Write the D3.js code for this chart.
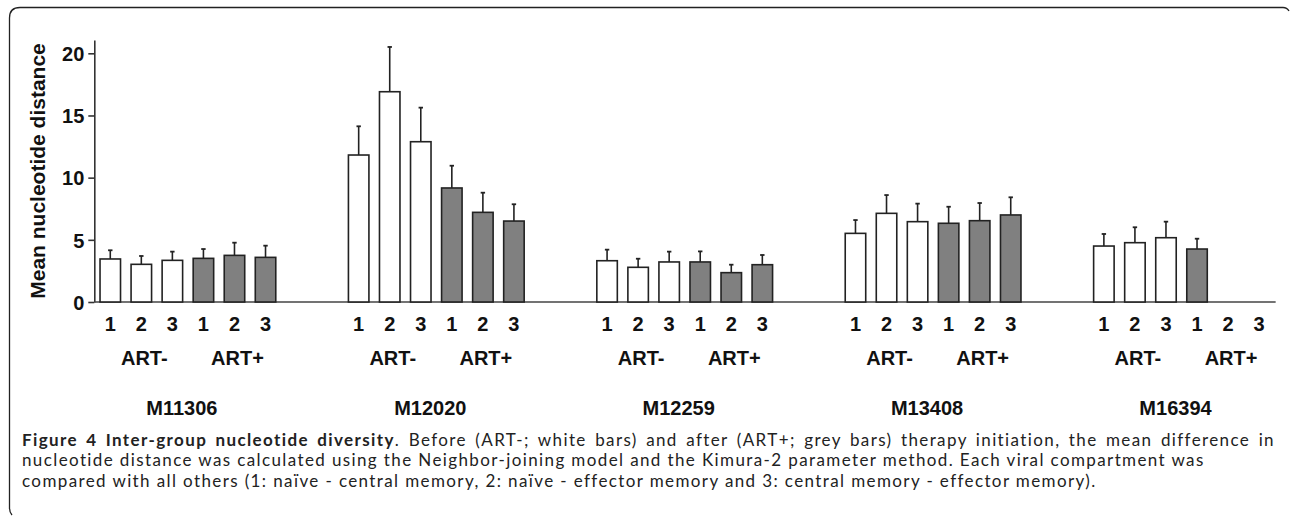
<!DOCTYPE html>
<html>
<head>
<meta charset="utf-8">
<script src="https://cdn.jsdelivr.net/npm/d3@7"></script>
<style>
  body { margin: 0; background: #fff; }
  svg { display: block; }
  .axis path, .axis line { stroke: #333; stroke-width: 1.6; }
  .axis text { font-family: 'Liberation Sans', Arial, sans-serif; font-weight: bold; font-size: 20px; fill: #111; }
</style>
</head>
<body>
<svg id="chart" width="1290" height="518"></svg>
<script>
const patients = ['M11306', 'M12020', 'M12259', 'M13408', 'M16394'];
const phases = ['ART-', 'ART+'];
const comparisons = ['1', '2', '3'];
const yTicks = [0, 5, 10, 15, 20];

// mean nucleotide distance, one row per patient, comparisons 1..3
const meanArtMinus = [
  [3.46, 3.03, 3.35],
  [11.82, 16.91, 12.89],
  [3.32, 2.79, 3.22],
  [5.52, 7.13, 6.46],
  [4.50, 4.77, 5.17]
];
const meanArtPlus = [
  [3.51, 3.75, 3.59],
  [9.17, 7.21, 6.51],
  [3.22, 2.36, 3.00],
  [6.33, 6.54, 7.00],
  [4.26, null, null]
];
// upper error (SEM)
const errArtMinus = [
  [0.70, 0.67, 0.70],
  [2.31, 3.60, 2.74],
  [0.89, 0.69, 0.83],
  [1.07, 1.47, 1.45],
  [0.97, 1.24, 1.29]
];
const errArtPlus = [
  [0.75, 1.02, 0.94],
  [1.79, 1.58, 1.35],
  [0.85, 0.64, 0.78],
  [1.33, 1.42, 1.42],
  [0.83, null, null]
];

const captionBold = 'Figure 4 Inter-group nucleotide diversity';
const captionLines = [
  '. Before (ART-; white bars) and after (ART+; grey bars) therapy initiation, the mean difference in',
  'nucleotide distance was calculated using the Neighbor-joining model and the Kimura-2 parameter method. Each viral compartment was',
  'compared with all others (1: naïve - central memory, 2: naïve - effector memory and 3: central memory - effector memory).'
];

const slots = [];
phases.forEach(p => comparisons.forEach(c => slots.push(p + '|' + c)));

const data = [];
patients.forEach((pt, i) => {
  comparisons.forEach((c, j) => {
    data.push({ patient: pt, phase: 'ART-', comp: c, mean: meanArtMinus[i][j], err: errArtMinus[i][j] });
  });
  comparisons.forEach((c, j) => {
    data.push({ patient: pt, phase: 'ART+', comp: c, mean: meanArtPlus[i][j], err: errArtPlus[i][j] });
  });
});

const svg = d3.select('#chart');
const groupStep = 248.4;
const left = 94.75;

const x0 = d3.scaleBand().domain(patients).range([left, left + groupStep * patients.length]);
const x1 = d3.scaleBand().domain(slots).range([0, 6 * 31.05]).paddingInner(0.34).paddingOuter(0.17);
const y = d3.scaleLinear().domain([0, 21.07]).range([302, 40]);

// frame
svg.append('path')
  .attr('d', 'M1289,11 Q1287,7.5 1283,7.5 L20,7.5 Q9.5,7.5 9.5,18 L9.5,508 Q9.5,512 12,515')
  .attr('fill', 'none')
  .attr('stroke', '#222')
  .attr('stroke-width', 1.3);

// y axis
svg.append('g')
  .attr('class', 'axis')
  .attr('transform', 'translate(94.3,0)')
  .call(d3.axisLeft(y).tickValues(yTicks).tickSize(6).tickSizeOuter(0).tickPadding(4))
  .call(g => g.selectAll('text').attr('dy', '0.36em'));

// x baseline
svg.append('line')
  .attr('x1', 94.3)
  .attr('x2', x0('M16394') + x1.range()[1] + 1)
  .attr('y1', y(0))
  .attr('y2', y(0))
  .attr('stroke', '#444')
  .attr('stroke-width', 1.6);

const bars = data.filter(d => d.mean != null);
const bx = d => x0(d.patient) + x1(d.phase + '|' + d.comp);

// error bars
svg.append('g')
  .selectAll('line')
  .data(bars)
  .enter()
  .append('line')
  .attr('x1', d => bx(d) + x1.bandwidth() / 2)
  .attr('x2', d => bx(d) + x1.bandwidth() / 2)
  .attr('y1', d => y(d.mean))
  .attr('y2', d => y(d.mean + d.err))
  .attr('stroke', '#222')
  .attr('stroke-width', 1.6);

svg.append('g')
  .selectAll('line')
  .data(bars)
  .enter()
  .append('line')
  .attr('x1', d => bx(d) + x1.bandwidth() / 2 - 2.2)
  .attr('x2', d => bx(d) + x1.bandwidth() / 2 + 2.2)
  .attr('y1', d => y(d.mean + d.err))
  .attr('y2', d => y(d.mean + d.err))
  .attr('stroke', '#222')
  .attr('stroke-width', 1.8);

// bars
svg.append('g')
  .selectAll('rect')
  .data(bars)
  .enter()
  .append('rect')
  .attr('x', d => bx(d))
  .attr('y', d => y(d.mean))
  .attr('width', x1.bandwidth())
  .attr('height', d => y(0) - y(d.mean))
  .attr('fill', d => (d.phase === 'ART-' ? '#ffffff' : '#808080'))
  .attr('stroke', '#222')
  .attr('stroke-width', 1.6);

const labelFont = "'Liberation Sans', Arial, sans-serif";

// comparison tick labels
svg.append('g')
  .selectAll('text')
  .data(data)
  .enter()
  .append('text')
  .attr('x', d => bx(d) + x1.bandwidth() / 2)
  .attr('y', 331)
  .attr('text-anchor', 'middle')
  .attr('font-family', labelFont)
  .attr('font-weight', 'bold')
  .attr('font-size', 20)
  .attr('fill', '#111')
  .text(d => d.comp);

// phase labels
const phaseLabels = [];
patients.forEach(pt => phases.forEach(p => phaseLabels.push({ patient: pt, phase: p })));
svg.append('g')
  .selectAll('text')
  .data(phaseLabels)
  .enter()
  .append('text')
  .attr('x', d => x0(d.patient) + x1(d.phase + '|2') + x1.bandwidth() / 2 + 3)
  .attr('y', 365)
  .attr('text-anchor', 'middle')
  .attr('font-family', labelFont)
  .attr('font-weight', 'bold')
  .attr('font-size', 20)
  .attr('fill', '#111')
  .text(d => d.phase);

// patient labels
svg.append('g')
  .selectAll('text')
  .data(patients)
  .enter()
  .append('text')
  .attr('x', d => x0(d) + x1.range()[1] / 2 - 6)
  .attr('y', 415)
  .attr('text-anchor', 'middle')
  .attr('font-family', labelFont)
  .attr('font-weight', 'bold')
  .attr('font-size', 20)
  .attr('fill', '#111')
  .text(d => d);

// y axis title
svg.append('text')
  .attr('transform', 'translate(45,171) rotate(-90)')
  .attr('text-anchor', 'middle')
  .attr('font-family', labelFont)
  .attr('font-weight', 'bold')
  .attr('font-size', 21)
  .attr('fill', '#111')
  .text('Mean nucleotide distance');

// caption
const capFont = "Lato, 'Open Sans', sans-serif";
const capLeft = 22;
const capRight = 1275;
const line2End = 1205;
const capY = [445.5, 466, 486.5];
const capText = (i) => svg.append('text')
  .attr('x', capLeft)
  .attr('y', capY[i])
  .attr('font-family', capFont)
  .attr('font-size', 17)
  .attr('fill', '#222');

// spread letters so the second line ends where it does in the figure
const probe = capText(1).text(captionLines[1]);
const spacing = (line2End - capLeft - probe.node().getComputedTextLength()) / captionLines[1].length;
probe.remove();

captionLines.forEach((line, i) => {
  const t = capText(i).attr('letter-spacing', spacing);
  if (i === 0) {
    t.append('tspan').attr('font-weight', 'bold').text(captionBold);
  }
  t.append('tspan').text(line);
  if (i === 0) {
    const len = t.node().getComputedTextLength();
    const spaces = (captionBold + line).split(' ').length - 1;
    t.attr('word-spacing', Math.max(0, (capRight - capLeft - len) / spaces));
  }
});
</script>
</body>
</html>
